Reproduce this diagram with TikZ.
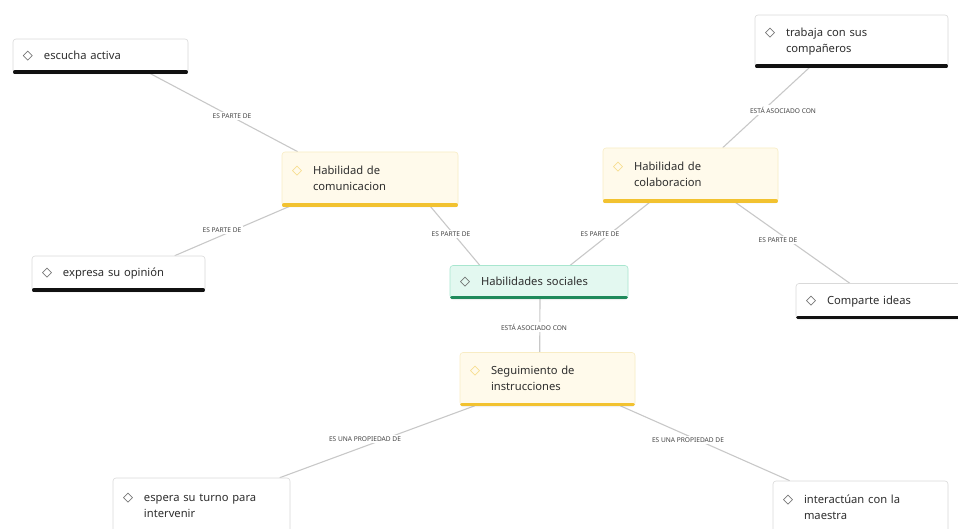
\documentclass[tikz,border=0pt]{standalone}
\usepackage{fontspec}
\setmainfont{Noto Sans}
\newfontfamily\djv{DejaVu Sans}
\usetikzlibrary{shadows}
\definecolor{cardborder}{HTML}{D9D9D9}
\definecolor{ycream}{HTML}{FFFAEB}
\definecolor{yborder}{HTML}{F8ECC4}
\definecolor{barcolY}{HTML}{F2C230}
\definecolor{yicon}{HTML}{F5D77A}
\definecolor{gmint}{HTML}{E3F8F0}
\definecolor{gborder}{HTML}{A8E6CF}
\definecolor{barcolG}{HTML}{1F8A5B}
\definecolor{barcolK}{HTML}{111111}
\definecolor{edgec}{HTML}{C8C8C8}
\definecolor{textc}{HTML}{2E2E2E}
\definecolor{lblc}{HTML}{444444}
\definecolor{iconc}{HTML}{555555}
\pgfdeclarelayer{background}
\pgfsetlayers{background,main}
\newcommand{\cardtext}[2]{\begin{tabular}[t]{@{}l@{\hspace{11pt}}l@{}}\textcolor{#1}{\djv\bfseries\fontsize{13}{11}\selectfont ◇} & \begin{tabular}[t]{@{}l@{}}#2\end{tabular}\end{tabular}}
\tikzset{
  card/.style={draw=cardborder, line width=0.6pt, rounded corners=3pt, fill=white,
    inner xsep=10pt, inner ysep=0pt, align=left, text=textc,
    font=\fontsize{11.2}{11}\selectfont,
    drop shadow={shadow xshift=0pt, shadow yshift=-1.5pt, opacity=0.12}},
  ycard/.style={card, fill=ycream, draw=yborder},
  gcard/.style={card, fill=gmint, draw=gborder},
  lbl/.style={fill=white, text=lblc, inner sep=1.5pt, font=\fontsize{6.6}{7}\selectfont},
  edge/.style={draw=edgec, line width=1.1pt},
  bar/.style={line width=3.4pt, line cap=round}
}
\renewcommand{\arraystretch}{1.45}
\begin{document}
\begin{tikzpicture}[x=1pt,y=-1pt]
\useasboundingbox (0,0) rectangle (958,529);
% nodes
\node[card, minimum width=175pt, minimum height=34pt, text width=155pt] (esc) at (100.5,56) {\cardtext{iconc}{escucha activa}};
\node[card, minimum width=193pt, minimum height=52pt, text width=173pt] (trab) at (851.5,41) {\cardtext{iconc}{trabaja con sus\\compañeros}};
\node[ycard, minimum width=176pt, minimum height=54pt, text width=156pt] (hcom) at (370,179) {\cardtext{yicon}{Habilidad de\\comunicacion}};
\node[ycard, minimum width=175pt, minimum height=54pt, text width=155pt] (hcol) at (690.5,175) {\cardtext{yicon}{Habilidad de\\colaboracion}};
\node[card, minimum width=173pt, minimum height=35pt, text width=153pt] (expr) at (118.5,273.5) {\cardtext{iconc}{expresa su opinión}};
\node[gcard, minimum width=178pt, minimum height=33pt, text width=158pt] (hs) at (539,282) {\cardtext{iconc}{Habilidades sociales}};
\node[card, minimum width=175pt, minimum height=35pt, text width=155pt] (comp) at (883.5,301) {\cardtext{iconc}{Comparte ideas}};
\node[ycard, minimum width=175pt, minimum height=53pt, text width=155pt] (seg) at (547.5,379) {\cardtext{yicon}{Seguimiento de\\instrucciones}};
\node[card, minimum width=177pt, minimum height=57pt, text width=157pt] (esp) at (201.5,506.5) {\cardtext{iconc}{espera su turno para\\intervenir}};
\node[card, minimum width=175pt, minimum height=54pt, text width=155pt] (inter) at (860.5,508) {\cardtext{iconc}{interactúan con la\\maestra}};
% bottom bars
\foreach \n/\cc in {esc/barcolK, trab/barcolK, expr/barcolK, comp/barcolK, esp/barcolK, inter/barcolK, hcom/barcolY, hcol/barcolY, seg/barcolY, hs/barcolG}{
  \draw[bar, draw=\cc] ([xshift=2pt,yshift=1.2pt]\n.south west) -- ([xshift=-2pt,yshift=1.2pt]\n.south east);
}
% labels
\node[lbl] (l1) at (232,116) {ES PARTE DE};
\node[lbl] (l2) at (222,230) {ES PARTE DE};
\node[lbl] (l3) at (451,234) {ES PARTE DE};
\node[lbl] (l4) at (600,234) {ES PARTE DE};
\node[lbl] (l5) at (783,110) {ESTÁ ASOCIADO CON};
\node[lbl] (l6) at (778,240) {ES PARTE DE};
\node[lbl] (l7) at (534,327) {ESTÁ ASOCIADO CON};
\node[lbl] (l8) at (365,439) {ES UNA PROPIEDAD DE};
\node[lbl] (l9) at (688,440) {ES UNA PROPIEDAD DE};
% edges
\begin{pgfonlayer}{background}
\draw[edge] ([xshift=137pt]esc.south west) -- ([xshift=16pt]hcom.north west);
\draw[edge] ([xshift=8pt]hcom.south west) -- ([xshift=143pt]expr.north west);
\draw[edge] ([xshift=-28pt]hcom.south east) -- ([xshift=30pt]hs.north west);
\draw[edge] ([xshift=47pt]hcol.south west) -- ([xshift=-58pt]hs.north east);
\draw[edge] ([xshift=55pt]trab.south west) -- ([xshift=120pt]hcol.north west);
\draw[edge] ([xshift=-43pt]hcol.south east) -- ([xshift=54pt]comp.north west);
\draw[edge] ([xshift=1pt]hs.south) -- ([xshift=80pt]seg.north west);
\draw[edge] ([xshift=15pt]seg.south west) -- ([xshift=167pt]esp.north west);
\draw[edge] ([xshift=-15pt]seg.south east) -- ([xshift=17pt]inter.north west);
\end{pgfonlayer}
\end{tikzpicture}
\end{document}
